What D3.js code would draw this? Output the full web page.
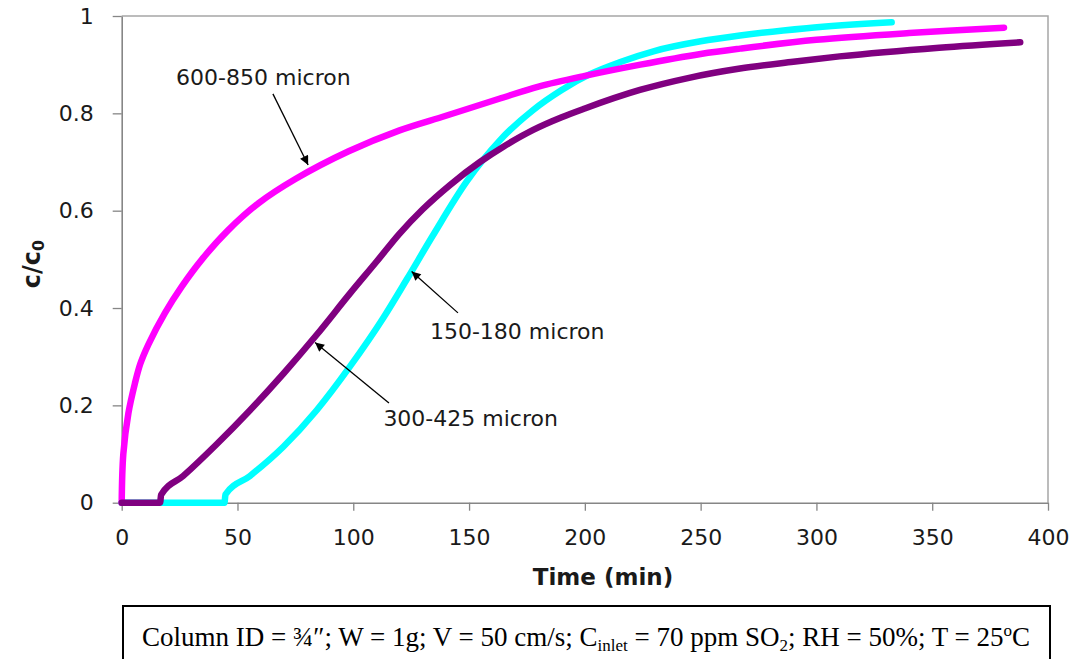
<!DOCTYPE html>
<html>
<head>
<meta charset="utf-8">
<script src="https://cdn.jsdelivr.net/npm/d3@7"></script>
<style>
  body { margin: 0; background: #fff; }
  svg { display: block; }
</style>
</head>
<body>
<script>
/*
DATA
*/
// 600-850 micron
const t600 = [0, 0.7, 2.9, 5.7, 8, 11.5, 18.7, 25.9, 34.5, 46, 59, 75, 98, 120, 140, 163, 180, 200, 224, 250, 267, 300, 340, 381]
const c600 = [0, 0.10, 0.184, 0.245, 0.285, 0.325, 0.39, 0.444, 0.499, 0.56, 0.615, 0.665, 0.722, 0.765, 0.795, 0.83, 0.855, 0.877, 0.9, 0.922, 0.933, 0.951, 0.965, 0.976]

// 300-425 micron
const t300 = [0, 16.6, 17, 26.6, 41, 55.4, 69.8, 84.2, 98.6, 110, 120, 130, 141.8, 154.7, 165, 177.7, 190, 200, 223.8, 245, 267, 290, 310, 353, 388]
const c300 = [0, 0, 0.016, 0.055, 0.12, 0.19, 0.265, 0.345, 0.43, 0.495, 0.553, 0.603, 0.653, 0.70, 0.732, 0.766, 0.792, 0.81, 0.848, 0.873, 0.892, 0.906, 0.917, 0.935, 0.946]

// 150-180 micron
const t150 = [0, 44.4, 44.8, 55.4, 69.8, 84.2, 98.6, 113, 123, 134.5, 149, 163.4, 177.7, 190, 202, 215, 230, 250, 267, 295.8, 332.5]
const c150 = [0, 0, 0.017, 0.055, 0.115, 0.19, 0.28, 0.38, 0.458, 0.55, 0.66, 0.745, 0.807, 0.848, 0.88, 0.905, 0.928, 0.948, 0.96, 0.975, 0.987]

const xTicks = [0, 50, 100, 150, 200, 250, 300, 350, 400]
const yTicks = [0, 0.2, 0.4, 0.6, 0.8, 1]

/*
SET UP
*/
const w = 1075
const h = 659
const m = ({top: 16, right: 27, bottom: 156.3, left: 121.7})

const svg = d3.select("body")
  .append("svg")
  .attr("width", w)
  .attr("height", h);

const x = d3.scaleLinear()
  .domain([0, 400])
  .range([m.left, w - m.right]);

const y = d3.scaleLinear()
  .domain([0, 1])
  .range([h - m.bottom, m.top]);

const font = "'DejaVu Sans', sans-serif"

/*
FRAME (top and right)
*/
svg.append("path")
  .attr("d", `M${x(0)},${y(1)}H${x(400)}V${y(0)}`)
  .attr("fill", "none")
  .attr("stroke", "#a6a6a6")
  .attr("stroke-width", 1.5);

/*
AXES
*/
const xAxis = svg.append("g")
  .attr("transform", `translate(0,${y(0)})`)
  .call(d3.axisBottom(x)
    .tickValues(xTicks)
    .tickSize(8)
    .tickSizeOuter(0)
    .tickPadding(18.7)
    .tickFormat(d3.format("d")));

const yAxis = svg.append("g")
  .attr("transform", `translate(${x(0)},0)`)
  .call(d3.axisLeft(y)
    .tickValues(yTicks)
    .tickSize(9)
    .tickSizeOuter(0)
    .tickPadding(19)
    .tickFormat((d) => d === 0 || d === 1 ? d : d3.format(".1f")(d)));

[xAxis, yAxis].forEach((g) => {
  g.select(".domain").attr("stroke", "#868686").attr("stroke-width", 1.6);
  g.selectAll(".tick line").attr("stroke", "#868686").attr("stroke-width", 1.3);
  g.selectAll(".tick text")
    .attr("fill", "#1a1a1a")
    .style("font-family", font)
    .style("font-size", "22px");
});

// axis titles
svg.append("text")
  .attr("x", 603)
  .attr("y", 585)
  .attr("text-anchor", "middle")
  .style("font-family", font)
  .style("font-size", "23px")
  .style("font-weight", "bold")
  .attr("fill", "#1a1a1a")
  .text("Time (min)");

const yTitle = svg.append("text")
  .attr("transform", "translate(40,264) rotate(-90)")
  .attr("text-anchor", "middle")
  .style("font-family", font)
  .style("font-size", "24px")
  .style("font-weight", "bold")
  .attr("fill", "#1a1a1a");
yTitle.append("tspan").text("c/c");
yTitle.append("tspan").attr("baseline-shift", "-25%").style("font-size", "16px").text("0");

/*
CURVES
*/
// flat-then-rising curves use a monotone curve so nothing dips below 0
const series = [
  {name: "150-180", t: t150, c: c150, color: "#00ffff", curve: d3.curveMonotoneX},
  {name: "600-850", t: t600, c: c600, color: "#ff00ff", curve: d3.curveCatmullRom.alpha(0.5)},
  {name: "300-425", t: t300, c: c300, color: "#800080", curve: d3.curveMonotoneX}
];

svg.selectAll(".curve")
  .data(series)
  .join("path")
  .attr("class", "curve")
  .attr("d", (d) => d3.line()
    .x((p) => x(p[0]))
    .y((p) => y(p[1]))
    .curve(d.curve)(d.t.map((t, i) => [t, d.c[i]])))
  .attr("fill", "none")
  .attr("stroke", (d) => d.color)
  .attr("stroke-width", 6.5)
  .attr("stroke-linecap", "round")
  .attr("stroke-linejoin", "round");

/*
ANNOTATIONS
*/
svg.append("defs").append("marker")
  .attr("id", "arrow")
  .attr("viewBox", "0 0 10 10")
  .attr("refX", 10)
  .attr("refY", 5)
  .attr("markerWidth", 11)
  .attr("markerHeight", 9)
  .attr("markerUnits", "userSpaceOnUse")
  .attr("orient", "auto")
  .append("path")
  .attr("d", "M0,0L10,5L0,10z")
  .attr("fill", "#000");

const notes = [
  {label: "600-850 micron", tx: 23.5, ty: 0.858, x1: 65.3, y1: 0.84, x2: 80.5, y2: 0.694},
  {label: "150-180 micron", tx: 133.1, ty: 0.336, x1: 145.2, y1: 0.39, x2: 125.2, y2: 0.475},
  {label: "300-425 micron", tx: 113, ty: 0.158, x1: 115.4, y1: 0.205, x2: 83.5, y2: 0.329}
];

svg.selectAll(".note-line")
  .data(notes)
  .join("line")
  .attr("class", "note-line")
  .attr("x1", (d) => x(d.x1))
  .attr("y1", (d) => y(d.y1))
  .attr("x2", (d) => x(d.x2))
  .attr("y2", (d) => y(d.y2))
  .attr("stroke", "#000")
  .attr("stroke-width", 1.3)
  .attr("marker-end", "url(#arrow)");

svg.selectAll(".note-text")
  .data(notes)
  .join("text")
  .attr("class", "note-text")
  .attr("x", (d) => x(d.tx))
  .attr("y", (d) => y(d.ty))
  .style("font-family", font)
  .style("font-size", "22px")
  .attr("fill", "#1a1a1a")
  .text((d) => d.label);

/*
CAPTION BOX
*/
svg.append("rect")
  .attr("x", 123)
  .attr("y", 606)
  .attr("width", 927)
  .attr("height", 70)
  .attr("fill", "none")
  .attr("stroke", "#000")
  .attr("stroke-width", 2);

const cap = svg.append("text")
  .attr("x", 586)
  .attr("y", 646)
  .attr("text-anchor", "middle")
  .style("font-family", "'Liberation Serif', 'Times New Roman', serif")
  .style("font-size", "27px")
  .attr("fill", "#000");
cap.append("tspan").text("Column ID = \u00be\u2033; W = 1g; V = 50 cm/s; C");
cap.append("tspan").attr("dy", 5).style("font-size", "17px").text("inlet");
cap.append("tspan").attr("dy", -5).text(" = 70 ppm SO");
cap.append("tspan").attr("dy", 5).style("font-size", "17px").text("2");
cap.append("tspan").attr("dy", -5).text("; RH = 50%; T = 25");
cap.append("tspan").attr("dy", -10).style("font-size", "17px").text("o");
cap.append("tspan").attr("dy", 10).text("C");
</script>
</body>
</html>
